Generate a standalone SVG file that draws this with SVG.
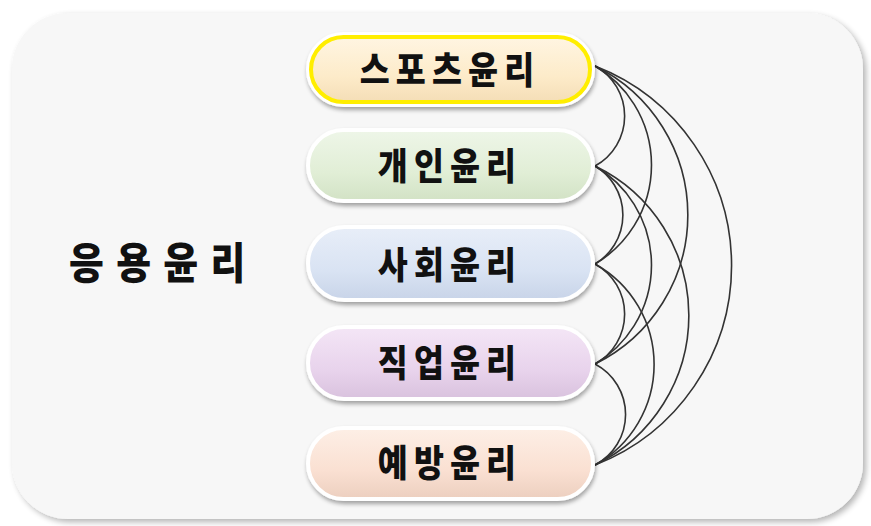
<svg xmlns="http://www.w3.org/2000/svg" width="871" height="526" viewBox="0 0 871 526">
<defs>
  <filter id="bgsh" x="-5%" y="-5%" width="110%" height="110%">
    <feGaussianBlur in="SourceAlpha" stdDeviation="3"/>
    <feOffset dx="3" dy="3"/>
    <feComponentTransfer><feFuncA type="linear" slope="0.3"/></feComponentTransfer>
    <feMerge><feMergeNode/><feMergeNode in="SourceGraphic"/></feMerge>
  </filter>
  <filter id="nsh" x="-10%" y="-20%" width="120%" height="150%">
    <feGaussianBlur in="SourceAlpha" stdDeviation="2"/>
    <feOffset dx="1" dy="3"/>
    <feComponentTransfer><feFuncA type="linear" slope="0.35"/></feComponentTransfer>
    <feMerge><feMergeNode/><feMergeNode in="SourceGraphic"/></feMerge>
  </filter>
  <linearGradient id="g1" x1="0" y1="0" x2="0" y2="1"><stop offset="0" stop-color="#fff6e4"/><stop offset="0.6" stop-color="#fdebc9"/><stop offset="1" stop-color="#f3dcb4"/></linearGradient>
  <linearGradient id="g2" x1="0" y1="0" x2="0" y2="1"><stop offset="0" stop-color="#eef6e8"/><stop offset="0.6" stop-color="#e1eed6"/><stop offset="1" stop-color="#d2e2c5"/></linearGradient>
  <linearGradient id="g3" x1="0" y1="0" x2="0" y2="1"><stop offset="0" stop-color="#e8eef8"/><stop offset="0.6" stop-color="#d9e3f3"/><stop offset="1" stop-color="#c8d4e8"/></linearGradient>
  <linearGradient id="g4" x1="0" y1="0" x2="0" y2="1"><stop offset="0" stop-color="#f4e6f6"/><stop offset="0.6" stop-color="#e8d3ec"/><stop offset="1" stop-color="#d9c2de"/></linearGradient>
  <linearGradient id="g5" x1="0" y1="0" x2="0" y2="1"><stop offset="0" stop-color="#fdefe6"/><stop offset="0.6" stop-color="#fae0d2"/><stop offset="1" stop-color="#eccfbf"/></linearGradient>
</defs>
<style>
  .pill { stroke: #ffffff; stroke-width: 4; filter: url(#nsh); }
  .lbl { font-family: "Noto Sans CJK KR", "Noto Sans", sans-serif; font-weight: 900; font-size: 37px; letter-spacing: 7px; fill: #111111; text-anchor: middle; }
  .main { font-family: "Noto Sans CJK KR", "Noto Sans", sans-serif; font-weight: 900; font-size: 43px; letter-spacing: 14px; fill: #111111; }
  .arc { fill: none; stroke: #333333; stroke-width: 1.6; }
</style>
<rect x="0" y="0" width="871" height="526" fill="#ffffff"/>
<rect id="panel" x="12" y="13" width="851" height="506" rx="56" ry="56" fill="#f7f7f7" filter="url(#bgsh)"/>
<g id="title"><text class="main" transform="translate(69,279) scale(0.88,1)">응용윤리</text></g>
<g id="connectors">
  <path class="arc" d="M595 66 A57 57 0 0 1 595 166"/>
  <path class="arc" d="M595 166 A57 57 0 0 1 595 264"/>
  <path class="arc" d="M595 264 A57 57 0 0 1 595 364"/>
  <path class="arc" d="M595 364 A57 57 0 0 1 595 465"/>
  <path class="arc" d="M595 66 A115 115 0 0 1 595 264"/>
  <path class="arc" d="M595 166 A115 115 0 0 1 595 364"/>
  <path class="arc" d="M595 264 A115 115 0 0 1 595 465"/>
  <path class="arc" d="M595 66 A166 166 0 0 1 595 364"/>
  <path class="arc" d="M595 166 A166 166 0 0 1 595 465"/>
  <path class="arc" d="M595 66 A214 214 0 0 1 595 465"/>
</g>
<g id="n1">
  <rect class="pill" x="308" y="34" width="285" height="71" rx="35.5" fill="url(#g1)"/>
  <rect x="311" y="37" width="279" height="65" rx="32.5" fill="none" stroke="#ffee00" stroke-width="4"/>
  <text class="lbl" transform="translate(450,84) scale(0.88,1)">스포츠윤리</text>
</g>
<g id="n2">
  <rect class="pill" x="308" y="130" width="285" height="71" rx="35.5" fill="url(#g2)"/>
  <text class="lbl" transform="translate(450,180) scale(0.88,1)">개인윤리</text>
</g>
<g id="n3">
  <rect class="pill" x="308" y="227" width="285" height="73" rx="36.5" fill="url(#g3)"/>
  <text class="lbl" transform="translate(450,279) scale(0.88,1)">사회윤리</text>
</g>
<g id="n4">
  <rect class="pill" x="308" y="327" width="285" height="72" rx="36" fill="url(#g4)"/>
  <text class="lbl" transform="translate(450,377) scale(0.88,1)">직업윤리</text>
</g>
<g id="n5">
  <rect class="pill" x="308" y="428" width="285" height="71" rx="35.5" fill="url(#g5)"/>
  <text class="lbl" transform="translate(450,477) scale(0.88,1)">예방윤리</text>
</g>
</svg>
